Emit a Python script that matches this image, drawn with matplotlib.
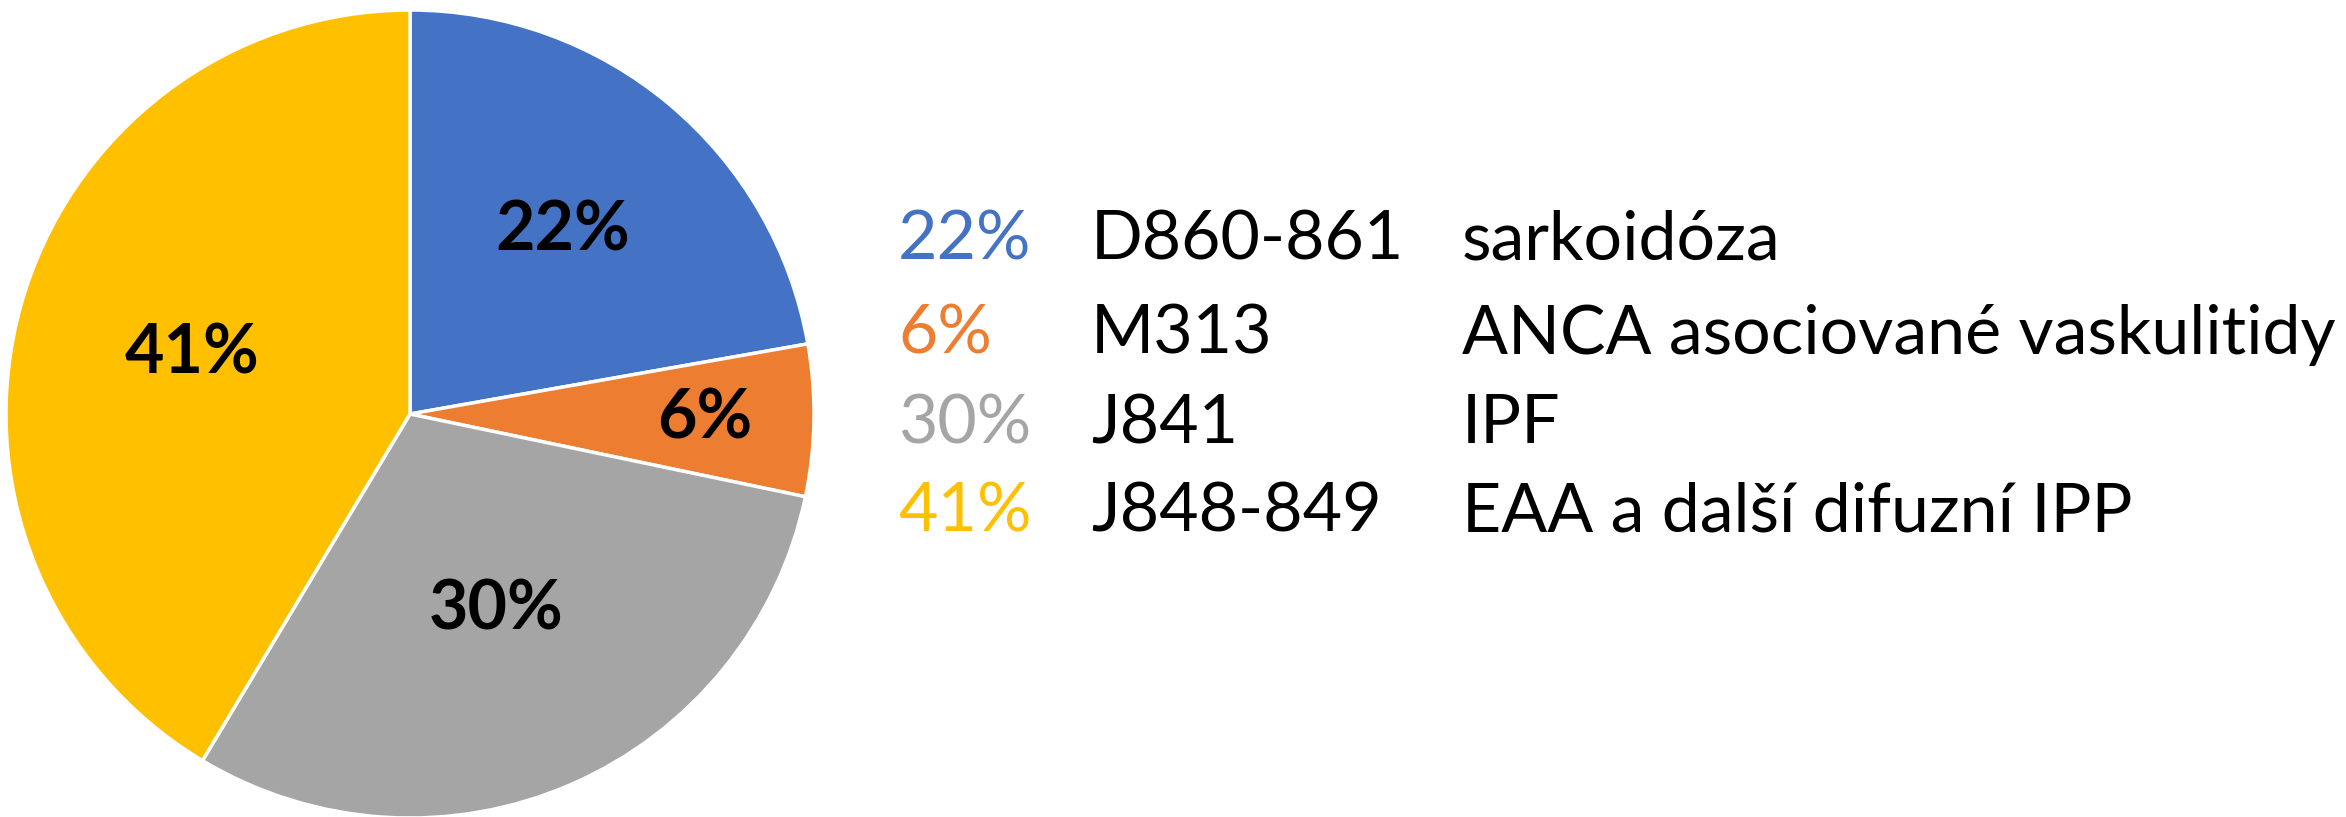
import matplotlib.pyplot as plt
import numpy as np

# data
shares = [22, 6, 30, 41]
codes = ["D860-861", "M313", "J841", "J848-849"]
names = ["sarkoidóza", "ANCA asociované vaskulitidy", "IPF", "EAA a další difuzní IPP"]
colors = ["#4472C4", "#ED7D31", "#A5A5A5", "#FFC000"]

plt.rcParams['font.family'] = ['Lato', 'DejaVu Sans']

W, H = 2346, 817
fig = plt.figure(figsize=(W / 100, H / 100), dpi=100)

# pie area in pixel terms
cx, cy, r = 410, 414, 404
ax = fig.add_axes([(cx - r) / W, (H - cy - r) / H, 2 * r / W, 2 * r / H])
wedges, _ = ax.pie(shares, colors=colors, startangle=90, counterclock=False,
                   radius=1, wedgeprops=dict(edgecolor="white", linewidth=2.5))
ax.set_xlim(-1, 1)
ax.set_ylim(-1, 1)
ax.set_aspect("equal")
ax.axis("off")

# inside labels, placed along each wedge's middle angle
label_r = [0.59, 0.73, 0.53, 0.56]
for w, v, lr in zip(wedges, shares, label_r):
    mid = np.deg2rad((w.theta1 + w.theta2) / 2)
    ax.text(lr * np.cos(mid), lr * np.sin(mid), f"{v}%", ha="center", va="center",
            fontsize=49, fontweight="bold", color="black")

# legend-like text block on the right
row_y = [240, 335, 424, 513]
for i in range(len(shares)):
    y = 1 - row_y[i] / H
    fig.text(898 / W, y, f"{shares[i]}%", color=colors[i], fontsize=49, va="center")
    fig.text(1091 / W, y, codes[i], color="black", fontsize=49, va="center")
    fig.text(1462 / W, y, names[i], color="black", fontsize=49, va="center")

fig.savefig("out.png", dpi=100)
